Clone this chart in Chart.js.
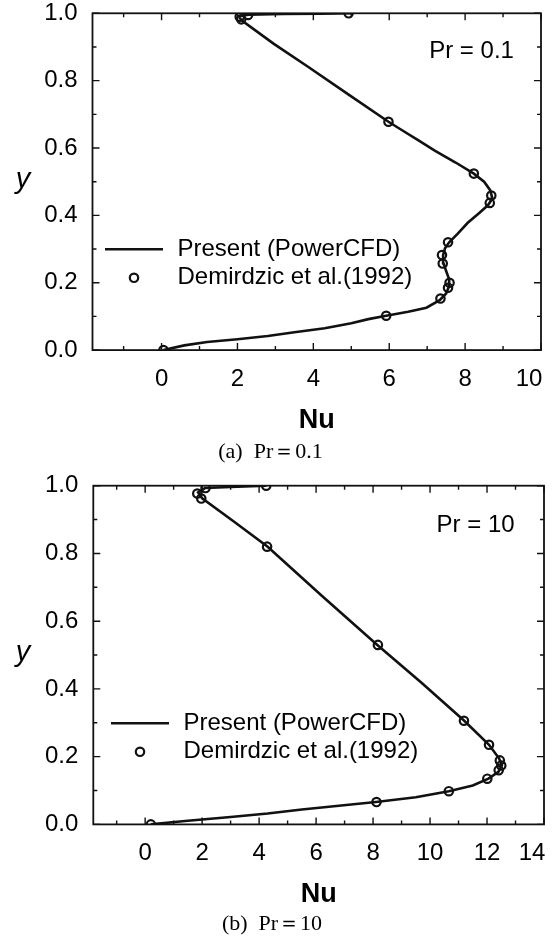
<!DOCTYPE html>
<html>
<head>
<meta charset="utf-8">
<script src="https://cdn.jsdelivr.net/npm/chart.js"></script>
<style>
  html, body { margin: 0; padding: 0; background: #fff; }
  canvas { display: block; }
</style>
</head>
<body>
<canvas id="chartA" width="552" height="470"></canvas>
<canvas id="chartB" width="552" height="469"></canvas>
<script>
// (a) Pr = 0.1 : PowerCFD curve and Demirdzic points
const lineNuA = [0.05, 0.6, 1.2, 2.0, 2.8, 3.5, 4.3, 5.0, 5.45, 5.92, 6.5, 6.98, 7.33, 7.5, 7.58, 7.58, 7.5, 7.43, 7.42, 7.47, 7.58, 7.8, 8.07, 8.35, 8.6, 8.72, 8.66, 8.5, 8.23, 7.75, 7.2, 6.75, 6.35, 5.98, 4.95, 3.85, 2.95, 2.1, 2.04, 2.3, 3.2, 4.2, 5.0];
const lineYA  = [0.0, 0.014, 0.024, 0.032, 0.042, 0.053, 0.065, 0.08, 0.092, 0.102, 0.114, 0.126, 0.148, 0.168, 0.19, 0.21, 0.235, 0.258, 0.282, 0.302, 0.32, 0.345, 0.378, 0.405, 0.43, 0.45, 0.475, 0.5, 0.524, 0.557, 0.592, 0.624, 0.652, 0.678, 0.757, 0.842, 0.91, 0.98, 0.992, 0.996, 0.998, 0.999, 1.0];
const demNuA  = [0.05, 5.92, 7.35, 7.55, 7.59, 7.41, 7.39, 7.55, 8.65, 8.69, 8.23, 5.98, 2.10, 2.06, 2.28, 4.93];
const demYA   = [0.0, 0.102, 0.153, 0.185, 0.200, 0.257, 0.282, 0.320, 0.437, 0.459, 0.524, 0.678, 0.982, 0.990, 0.995, 1.0];

// (b) Pr = 10
const lineNuB = [0.2, 1.4, 3.0, 4.3, 5.5, 6.8, 8.1, 9.5, 10.66, 11.5, 12.05, 12.4, 12.52, 12.42, 12.07, 11.2, 9.7, 8.15, 6.2, 4.3, 3.1, 2.0, 1.86, 2.1, 3.0, 4.25];
const lineYB  = [0.0, 0.01, 0.022, 0.032, 0.044, 0.055, 0.066, 0.08, 0.098, 0.115, 0.135, 0.155, 0.175, 0.195, 0.235, 0.306, 0.418, 0.53, 0.675, 0.82, 0.895, 0.963, 0.98, 0.993, 0.996, 1.0];
const demNuB  = [0.2, 8.12, 10.66, 12.01, 12.41, 12.5, 12.45, 12.07, 11.19, 8.17, 4.28, 1.97, 1.83, 2.12, 4.25];
const demYB   = [0.0, 0.066, 0.098, 0.135, 0.160, 0.174, 0.189, 0.235, 0.306, 0.530, 0.820, 0.962, 0.977, 0.993, 1.0];

const seriesNames = ["Present (PowerCFD)", "Demirdzic et al.(1992)"];
const xTitle = "Nu";
const yTitle = "y";

const SANS = '"Liberation Sans", Arial, Helvetica, sans-serif';
const SERIF = '"Liberation Serif", "Times New Roman", serif';

function pairs(xs, ys) {
    return xs.map(function (x, i) { return { x: x, y: ys[i] }; });
}

// box, inward ticks, upright y label, Pr note and legend
const framePlugin = {
    id: "frame",
    afterDraw: function (chart, args, opts) {
        const ctx = chart.ctx;
        const a = chart.chartArea;
        const x = chart.scales.x, y = chart.scales.y;
        ctx.save();
        ctx.strokeStyle = "#111";
        ctx.lineWidth = 1.8;
        ctx.strokeRect(a.left, a.top, a.right - a.left, a.bottom - a.top);

        ctx.lineWidth = 1.4;
        ctx.beginPath();
        for (let v = Math.ceil(x.min); v <= x.max; v++) {
            const px = x.getPixelForValue(v);
            const len = v % 2 === 0 ? 7 : 4;
            ctx.moveTo(px, a.bottom); ctx.lineTo(px, a.bottom - len);
            ctx.moveTo(px, a.top); ctx.lineTo(px, a.top + len);
        }
        for (let i = 0; i <= 10; i++) {
            const py = y.getPixelForValue(i / 10);
            const len = i % 2 === 0 ? 7 : 4;
            ctx.moveTo(a.left, py); ctx.lineTo(a.left + len, py);
            ctx.moveTo(a.right, py); ctx.lineTo(a.right - len, py);
        }
        ctx.stroke();

        ctx.fillStyle = "#000";
        ctx.textAlign = "center";
        ctx.textBaseline = "middle";
        ctx.font = "italic 29px " + SANS;
        ctx.fillText(yTitle, 23, (a.top + a.bottom) / 2 - 2);

        ctx.font = "24px " + SANS;
        ctx.fillText(opts.note, x.getPixelForValue(opts.noteAt[0]), y.getPixelForValue(opts.noteAt[1]));

        // legend
        const ds = chart.data.datasets;
        const lx = a.left + opts.legendX, ly = a.top + opts.legendY;
        ctx.strokeStyle = ds[0].borderColor;
        ctx.lineWidth = ds[0].borderWidth;
        ctx.beginPath();
        ctx.moveTo(lx, ly); ctx.lineTo(lx + 58, ly);
        ctx.stroke();
        ctx.lineWidth = ds[1].pointBorderWidth;
        ctx.beginPath();
        ctx.arc(lx + 29, ly + 28.5, ds[1].pointRadius, 0, Math.PI * 2);
        ctx.stroke();
        ctx.textAlign = "left";
        ctx.font = "24px " + SANS;
        ctx.fillText(ds[0].label, lx + 72.5, ly);
        ctx.fillText(ds[1].label, lx + 72.5, ly + 28.5);
        ctx.restore();
    }
};

function makeChart(id, cfg) {
    return new Chart(document.getElementById(id), {
        type: "scatter",
        data: {
            datasets: [
                {
                    label: seriesNames[0],
                    data: pairs(cfg.lineNu, cfg.lineY),
                    showLine: true,
                    borderColor: "#111",
                    borderWidth: 2.6,
                    pointRadius: 0,
                    tension: 0,
                    order: 1,
                },
                {
                    label: seriesNames[1],
                    data: pairs(cfg.demNu, cfg.demY),
                    showLine: false,
                    borderColor: "#111",
                    pointBorderColor: "#111",
                    pointBackgroundColor: "rgba(0,0,0,0)",
                    backgroundColor: "rgba(0,0,0,0)",
                    pointRadius: 4.2,
                    pointBorderWidth: 2.2,
                    order: 0,
                },
            ],
        },
        options: {
            responsive: false,
            animation: false,
            events: [],
            layout: { padding: { left: 0, right: cfg.padRight, top: cfg.padTop, bottom: 0 } },
            plugins: {
                legend: { display: false },
                tooltip: { enabled: false },
                title: {
                    display: true,
                    position: "bottom",
                    text: cfg.caption,
                    color: "#000",
                    font: { family: SERIF, size: 22, weight: "normal" },
                    padding: { top: 0, bottom: cfg.capPad },
                },
                frame: { note: cfg.note, noteAt: cfg.noteAt, legendX: cfg.legendX, legendY: cfg.legendY },
            },
            scales: {
                x: {
                    type: "linear",
                    min: -1.82,
                    max: cfg.xMax,
                    grid: { display: false, drawTicks: false },
                    border: { display: false },
                    ticks: {
                        stepSize: 2,
                        includeBounds: false,
                        autoSkip: false,
                        maxRotation: 0,
                        padding: 15,
                        color: "#000",
                        font: { family: SANS, size: 24 },
                        callback: function (v) {
                            return v === cfg.xMax ? v + "\u2002\u2002" : String(v);
                        },
                    },
                    title: {
                        display: true,
                        text: xTitle,
                        color: "#000",
                        font: { family: SANS, size: 27, weight: "bold" },
                        padding: { top: 0, bottom: cfg.nuPad },
                    },
                    afterFit: function (s) {
                        s.height = cfg.xHeight;
                        s.paddingLeft = 0;
                        s.paddingRight = 0;
                    },
                },
                y: {
                    type: "linear",
                    min: 0,
                    max: 1,
                    grid: { display: false, drawTicks: false },
                    border: { display: false },
                    ticks: {
                        stepSize: 0.2,
                        padding: 15,
                        color: "#000",
                        font: { family: SANS, size: 24 },
                        callback: function (v) { return v.toFixed(1); },
                    },
                    afterFit: function (s) {
                        s.width = cfg.yWidth;
                        s.paddingTop = 0;
                        s.paddingBottom = 0;
                    },
                },
            },
        },
        plugins: [framePlugin],
    });
}

makeChart("chartA", {
    lineNu: lineNuA, lineY: lineYA, demNu: demNuA, demY: demYA,
    xMax: 10, caption: "(a)  Pr\uFF1D0.1", note: "Pr = 0.1", noteAt: [8.17, 0.886],
    padRight: 11, padTop: 13.3, yWidth: 92.5, xHeight: 89.2, capPad: 4.3, nuPad: 2.2,
    legendX: 12.5, legendY: 236,
});

makeChart("chartB", {
    lineNu: lineNuB, lineY: lineYB, demNu: demNuB, demY: demYB,
    xMax: 14, caption: "(b)  Pr\uFF1D10", note: "Pr = 10", noteAt: [11.6, 0.884],
    padRight: 8, padTop: 15.7, yWidth: 93.3, xHeight: 87, capPad: 1.2, nuPad: 0.3,
    legendX: 17.7, legendY: 237.6,
});
</script>
</body>
</html>
